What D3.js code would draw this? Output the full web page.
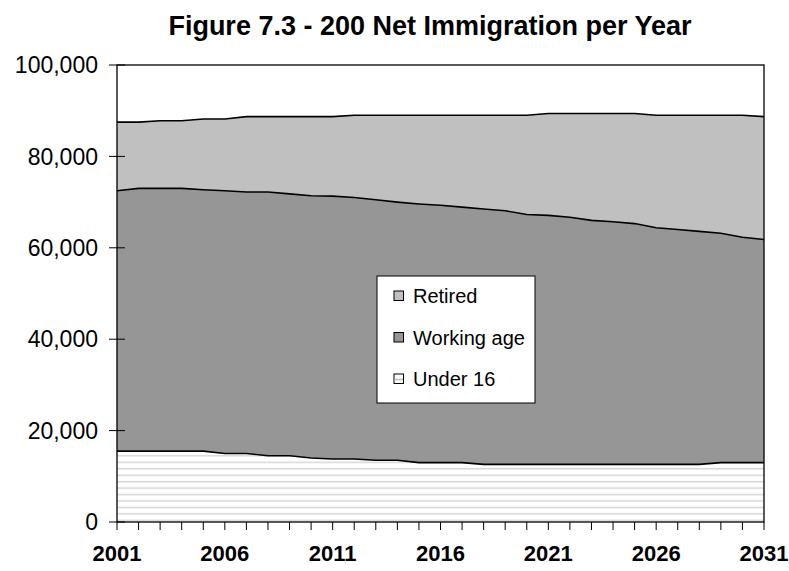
<!DOCTYPE html>
<html>
<head>
<meta charset="utf-8">
<script src="https://cdn.jsdelivr.net/npm/d3@7/dist/d3.min.js"></script>
<style>
  html, body { margin: 0; padding: 0; background: #fff; }
  svg { display: block; font-family: Arial, "Liberation Sans", sans-serif; }
</style>
</head>
<body>
<svg id="chart" width="789" height="571"></svg>
<script>
// Net immigration by age group, 2001-2031 (persons per year)
const years = d3.range(2001, 2032);
const under16 = [15500,15500,15500,15500,15500,15000,15000,14500,14500,14000,13800,13800,13500,13500,13000,13000,13000,
                 12600,12600,12600,12600,12600,12600,12600,12600,12600,12600,12600,13000,13000,13000];
const workingAge = [57000,57500,57500,57500,57200,57500,57200,57700,57300,57400,57500,57200,57000,56500,56600,56300,55900,
                    55900,55500,54700,54500,54100,53400,53100,52700,51800,51400,51000,50200,49300,48800];
const retired = [15000,14500,14800,14800,15500,15700,16500,16500,16900,17300,17400,18000,18500,19000,19400,19700,20100,
                 20500,20900,21700,22300,22700,23400,23700,24100,24600,25000,25400,25800,26700,26900];
const yTicks = [0, 20000, 40000, 60000, 80000, 100000];
const xLabelYears = [2001, 2006, 2011, 2016, 2021, 2026, 2031];
const seriesKeys = ["under16", "working", "retired"];
const seriesNames = { under16: "Under 16", working: "Working age", retired: "Retired" };

const table = years.map((yr, i) => ({ year: yr, under16: under16[i], working: workingAge[i], retired: retired[i] }));

const svg = d3.select("#chart");
const plot = { left: 117, right: 764, top: 65, bottom: 522 };

const x = d3.scaleLinear().domain([2001, 2031]).range([plot.left, plot.right]);
const y = d3.scaleLinear().domain([0, 100000]).range([plot.bottom, plot.top]);

// Hatch used for the Under 16 band
const defs = svg.append("defs");
const pat = defs.append("pattern")
  .attr("id", "hatch").attr("patternUnits", "userSpaceOnUse")
  .attr("width", 8).attr("height", 6.45);
pat.append("rect").attr("width", 8).attr("height", 6.45).attr("fill", "#fff");
pat.append("rect").attr("y", 3.6).attr("width", 8).attr("height", 1.5).attr("fill", "#d6d6d6");

const fills = { under16: "url(#hatch)", working: "#969696", retired: "#c0c0c0" };

// Plot background
svg.append("rect").attr("x", plot.left).attr("y", plot.top)
  .attr("width", plot.right - plot.left).attr("height", plot.bottom - plot.top).attr("fill", "#fff");

const stacked = d3.stack().keys(seriesKeys)(table);

const area = d3.area()
  .x(d => x(d.data.year))
  .y0(d => y(d[0]))
  .y1(d => y(d[1]));

const edge = d3.line()
  .x(d => x(d.data.year))
  .y(d => y(d[1]));

svg.append("g").selectAll("path.band")
  .data(stacked).join("path")
  .attr("class", "band")
  .attr("d", area)
  .attr("fill", d => fills[d.key]);

svg.append("g").selectAll("path.edge")
  .data(stacked).join("path")
  .attr("class", "edge")
  .attr("d", edge)
  .attr("fill", "none")
  .attr("stroke", "#000")
  .attr("stroke-width", 1.6);

// Plot frame
svg.append("rect").attr("x", plot.left).attr("y", plot.top)
  .attr("width", plot.right - plot.left).attr("height", plot.bottom - plot.top)
  .attr("fill", "none").attr("stroke", "#000").attr("stroke-width", 1.3);

// Y axis
const yAxis = svg.append("g");
yAxis.selectAll("line.tick").data(yTicks).join("line")
  .attr("x1", plot.left - 8).attr("x2", plot.left + 8)
  .attr("y1", d => y(d)).attr("y2", d => y(d))
  .attr("stroke", "#000").attr("stroke-width", 1);
yAxis.selectAll("text").data(yTicks).join("text")
  .attr("x", plot.left - 19).attr("y", d => y(d))
  .attr("dy", "0.36em")
  .attr("text-anchor", "end")
  .attr("font-size", 23)
  .attr("fill", "#000")
  .text(d => d3.format(",")(d));

// X axis
const xAxis = svg.append("g");
xAxis.selectAll("line").data(years).join("line")
  .attr("x1", d => x(d)).attr("x2", d => x(d))
  .attr("y1", plot.bottom).attr("y2", plot.bottom + 8)
  .attr("stroke", "#000").attr("stroke-width", 1);
xAxis.selectAll("text").data(xLabelYears).join("text")
  .attr("x", d => x(d)).attr("y", 561)
  .attr("text-anchor", "middle")
  .attr("font-size", 22).attr("font-weight", "bold")
  .attr("fill", "#000")
  .text(d => d);

// Title
svg.append("text")
  .attr("x", 430).attr("y", 35)
  .attr("text-anchor", "middle")
  .attr("font-size", 27).attr("font-weight", "bold")
  .text("Figure 7.3 - 200 Net Immigration per Year");

// Legend
const legend = svg.append("g").attr("transform", "translate(377,276)");
legend.append("rect").attr("width", 158).attr("height", 127)
  .attr("fill", "#fff").attr("stroke", "#000").attr("stroke-width", 1);
const legendKeys = ["retired", "working", "under16"];
const item = legend.selectAll("g.item").data(legendKeys).join("g")
  .attr("class", "item")
  .attr("transform", (d, i) => `translate(0,${20 + i * 41.5})`);
item.append("rect")
  .attr("x", 17).attr("y", -5).attr("width", 9.5).attr("height", 9.5)
  .attr("fill", d => d === "under16" ? "#fff" : fills[d])
  .attr("stroke", "#000").attr("stroke-width", 1);
item.filter(d => d === "under16").append("line")
  .attr("x1", 17.5).attr("x2", 26).attr("y1", 0.5).attr("y2", 0.5)
  .attr("stroke", "#bbb").attr("stroke-width", 1.5);
item.append("text")
  .attr("x", 36).attr("y", 0).attr("dy", "0.36em")
  .attr("font-size", 20).attr("fill", "#000")
  .text(d => seriesNames[d]);
</script>
</body>
</html>
